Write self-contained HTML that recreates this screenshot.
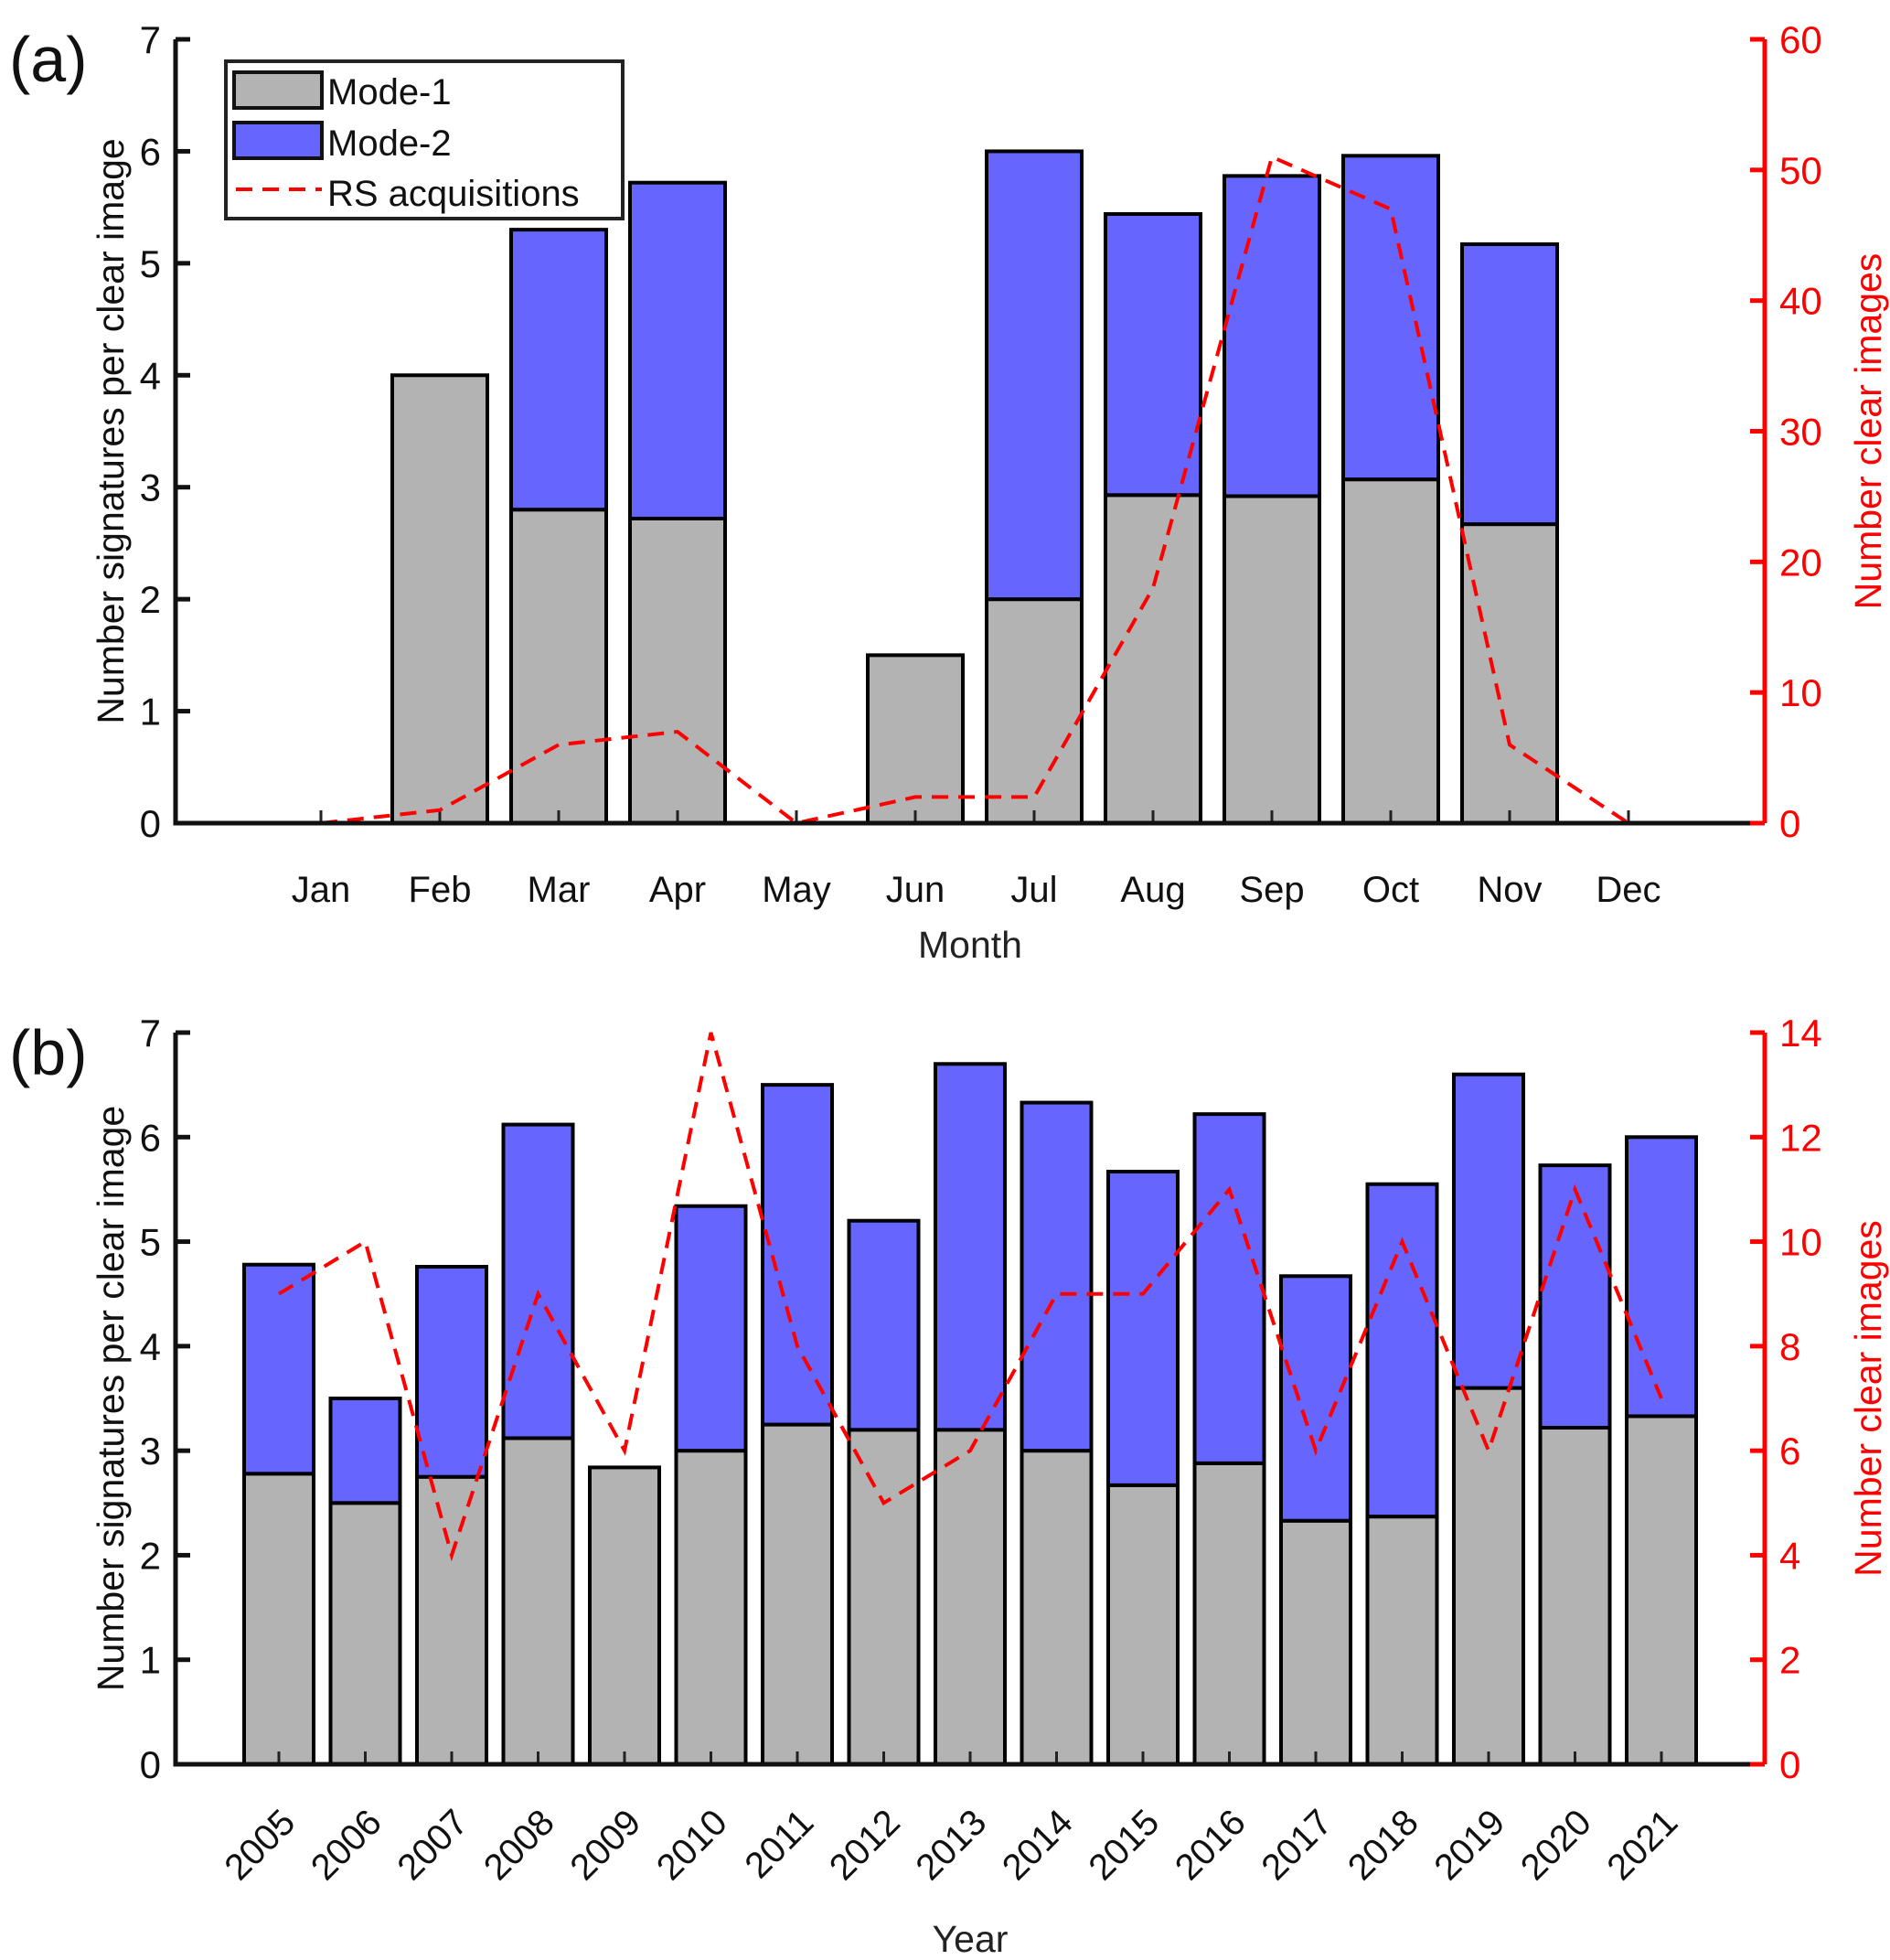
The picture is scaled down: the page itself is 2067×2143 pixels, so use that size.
<!DOCTYPE html>
<html><head><meta charset="utf-8"><style>
html,body{margin:0;padding:0;background:#fff}
svg{display:block;font-family:"Liberation Sans","DejaVu Sans",sans-serif}
</style></head><body>
<svg id="chart" width="2067" height="2143" viewBox="0 0 2067 2143" xmlns="http://www.w3.org/2000/svg"></svg>
<script>
const months=["Jan","Feb","Mar","Apr","May","Jun","Jul","Aug","Sep","Oct","Nov","Dec"];
const monthMode1=[0,4,2.8,2.72,0,1.5,2,2.93,2.92,3.07,2.67,0];
const monthMode2=[0,0,2.5,3.0,0,0,4.0,2.51,2.86,2.89,2.5,0];
const monthRS=[0,1,6,7,0,2,2,18,51,47,6,0];
const years=["2005","2006","2007","2008","2009","2010","2011","2012","2013","2014","2015","2016","2017","2018","2019","2020","2021"];
const yearMode1=[2.78,2.5,2.75,3.12,2.84,3.0,3.25,3.2,3.2,3.0,2.67,2.88,2.33,2.37,3.6,3.22,3.33];
const yearMode2=[2.0,1.0,2.01,3.0,0,2.34,3.25,2.0,3.5,3.33,3.0,3.34,2.34,3.18,3.0,2.51,2.67];
const yearRS=[9,10,4,9,6,14,8,5,6,9,9,11,6,10,6,11,7];
const leftTicks=[0,1,2,3,4,5,6,7];
const rightTicksA=[0,10,20,30,40,50,60];
const rightTicksB=[0,2,4,6,8,10,12,14];

const svg=document.getElementById('chart');
const NS="http://www.w3.org/2000/svg";
function mk(tag,attrs,text){const e=document.createElementNS(NS,tag);for(const k in attrs)e.setAttribute(k,attrs[k]);if(text!==undefined)e.textContent=text;svg.appendChild(e);return e;}

const X0=192,X1=1930;
function panel(p){
  const y=v=>p.yBot-(p.yBot-p.yTop)*v/7;
  const yr=v=>p.yBot-(p.yBot-p.yTop)*v/p.rMax;
  const xc=i=>p.x0+p.dx*i;
  p.cats.forEach((c,i)=>{
    const m1=p.m1[i],m2=p.m2[i];
    if(m1>0){const r=mk('rect',{x:xc(i)-p.bw/2,y:y(m1),width:p.bw,height:y(0)-y(m1),fill:'#b3b3b3',stroke:'#000','stroke-width':4});
      
      }
    if(m2>0){const r=mk('rect',{x:xc(i)-p.bw/2,y:y(m1+m2),width:p.bw,height:y(m1)-y(m1+m2),fill:'#6666ff',stroke:'#000','stroke-width':4});
      
      }
    const t=mk('line',{x1:xc(i),x2:xc(i),y1:p.yBot,y2:p.yBot-14,stroke:'#222','stroke-width':3});
    
    
    let lab;
    if(p.rot){lab=mk('text',{x:xc(i)+20,y:p.yBot+66,'font-size':40,'text-anchor':'end',fill:'#111',transform:`rotate(-45 ${xc(i)+20} ${p.yBot+66})`},c);}
    else lab=mk('text',{x:xc(i),y:p.yBot+86,'font-size':40,'text-anchor':'middle',fill:'#111'},c);
    
    
  });
  const pts=p.rs.map((v,i)=>xc(i)+','+yr(v)).join(' ');
  const pl=mk('polyline',{points:pts,fill:'none',stroke:'#ff0000','stroke-width':4,'stroke-dasharray':'18,11'});
  
  
  const ax=mk('path',{d:`M${X0},${p.yTop} V${p.yBot} H${X1}`,fill:'none',stroke:'#111','stroke-width':5});
  
  
  leftTicks.forEach(v=>{
    mk('line',{x1:X0,x2:X0+16,y1:y(v),y2:y(v),stroke:'#111','stroke-width':5});
    const t=mk('text',{x:X0-16,y:y(v)+15,'font-size':42,'text-anchor':'end',fill:'#111'},v);
    
    
  });
  const rax=mk('line',{x1:X1,x2:X1,y1:p.yTop,y2:p.yBot,stroke:'#ff0000','stroke-width':5});
  
  
  p.rTicks.forEach(v=>{
    mk('line',{x1:X1-16,x2:X1,y1:yr(v),y2:yr(v),stroke:'#ff0000','stroke-width':5});
    const t=mk('text',{x:X1+16,y:yr(v)+15,'font-size':42,fill:'#ff0000'},v);
    
    
  });
  const ly=(p.yTop+p.yBot)/2;
  const yl=mk('text',{x:135,y:ly,'font-size':41,'text-anchor':'middle',fill:'#111',transform:`rotate(-90 135 ${ly})`},'Number signatures per clear image');
  
  
  const rl=mk('text',{x:2057,y:ly,'font-size':41,'text-anchor':'middle',fill:'#ff0000',transform:`rotate(-90 2057 ${ly})`},'Number clear images');
  
  
  const xl=mk('text',{x:1061,y:p.xlY,'font-size':41,'text-anchor':'middle',fill:'#222'},p.xl);
  
  
  const pn=mk('text',{x:10,y:p.yTop+46,'font-size':70,fill:'#111'},p.label);
  
  
}
panel({cats:months,m1:monthMode1,m2:monthMode2,rs:monthRS,yTop:43,yBot:900,rMax:60,rTicks:rightTicksA,x0:351,dx:130,bw:104,rot:false,xl:'Month',xlY:1047,label:'(a)'});
panel({cats:years,m1:yearMode1,m2:yearMode2,rs:yearRS,yTop:1129,yBot:1929,rMax:14,rTicks:rightTicksB,x0:305,dx:94.5,bw:76,rot:true,xl:'Year',xlY:2134,label:'(b)'});

const lg=mk('rect',{x:247,y:67,width:434,height:172,fill:'#fff',stroke:'#222','stroke-width':4});


const e1=mk('rect',{x:256,y:79,width:96,height:39,fill:'#b3b3b3',stroke:'#111','stroke-width':4});


const e2=mk('rect',{x:256,y:134,width:96,height:39,fill:'#6666ff',stroke:'#111','stroke-width':4});


const e3=mk('line',{x1:258,x2:352,y1:207,y2:207,stroke:'#ff0000','stroke-width':4,'stroke-dasharray':'18,11'});


[['Mode-1',114],['Mode-2',170],['RS acquisitions',225]].forEach(([t,yy])=>{
  const el=mk('text',{x:358,y:yy,'font-size':40,fill:'#111'},t);
  
  
});
</script>
</body></html>
